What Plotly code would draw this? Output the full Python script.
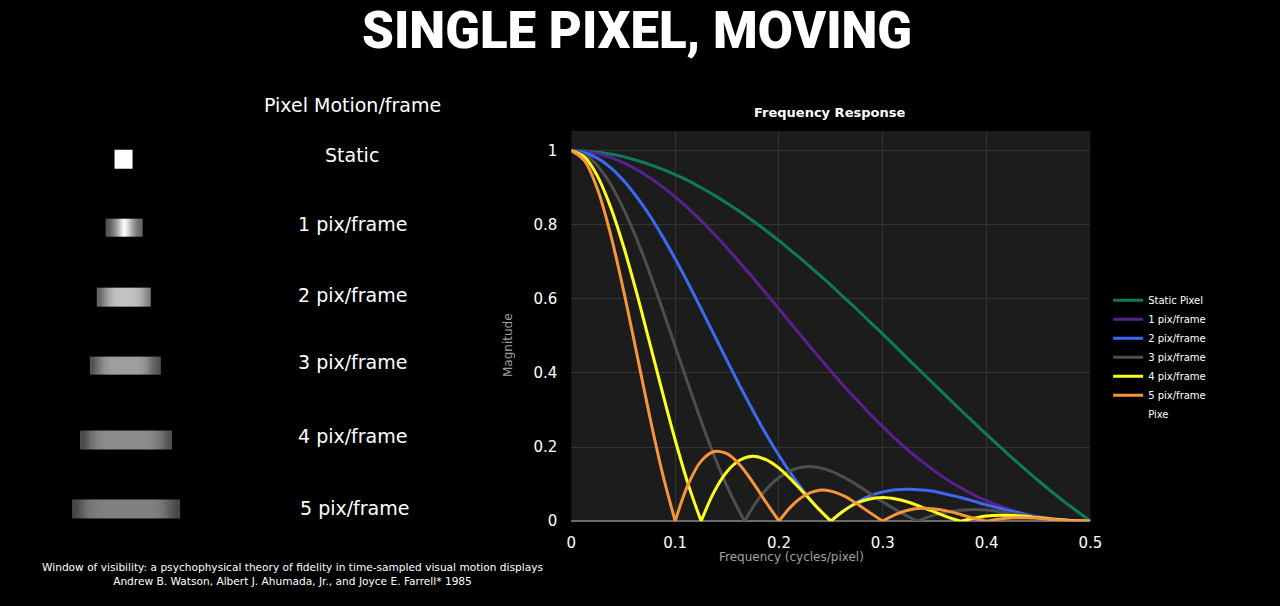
import plotly.graph_objects as go

# ------------------------------------------------------------------
# Frequency response data
# ------------------------------------------------------------------
FREQ = [0, 0.0125, 0.025, 0.0375, 0.05, 0.0625, 0.075, 0.0875, 0.1, 0.1125,
        0.125, 0.1375, 0.15, 0.1625, 0.175, 0.1875, 0.2, 0.2125, 0.225, 0.2375,
        0.25, 0.2625, 0.275, 0.2875, 0.3, 0.3125, 0.325, 0.3375, 0.35, 0.3625,
        0.375, 0.3875, 0.4, 0.4125, 0.425, 0.4375, 0.45, 0.4625, 0.475, 0.4875, 0.5]

STATIC = [1, 0.999, 0.996, 0.991, 0.984, 0.974, 0.963, 0.950, 0.935, 0.919,
          0.900, 0.880, 0.858, 0.835, 0.810, 0.784, 0.757, 0.728, 0.699, 0.668,
          0.637, 0.604, 0.572, 0.538, 0.505, 0.471, 0.436, 0.402, 0.368, 0.334,
          0.300, 0.267, 0.234, 0.202, 0.170, 0.139, 0.109, 0.080, 0.052, 0.026, 0]

PIX1 = [1, 0.998, 0.992, 0.982, 0.968, 0.950, 0.928, 0.903, 0.875, 0.844,
        0.811, 0.775, 0.737, 0.697, 0.657, 0.615, 0.573, 0.530, 0.488, 0.446,
        0.405, 0.365, 0.327, 0.290, 0.255, 0.221, 0.190, 0.162, 0.135, 0.111,
        0.090, 0.071, 0.055, 0.041, 0.029, 0.019, 0.012, 0.006, 0.003, 0.001, 0]

PIX2 = [1, 0.995, 0.980, 0.955, 0.920, 0.877, 0.827, 0.770, 0.708, 0.642,
        0.573, 0.503, 0.433, 0.364, 0.298, 0.235, 0.177, 0.124, 0.076, 0.035,
        0, 0.029, 0.051, 0.068, 0.079, 0.085, 0.086, 0.084, 0.080, 0.072,
        0.064, 0.054, 0.044, 0.035, 0.026, 0.018, 0.011, 0.006, 0.003, 0.001, 0]

FREQ_3 = [0, 0.0167, 0.0333, 0.05, 0.0667, 0.0833, 0.1, 0.1167, 0.1333, 0.15,
          0.1667, 0.1833, 0.2, 0.2167, 0.2333, 0.25, 0.2667, 0.2833, 0.3, 0.3167,
          0.3333, 0.35, 0.3667, 0.3833, 0.4, 0.4167, 0.4333, 0.45, 0.4667, 0.4833, 0.5]

PIX3 = [1, 0.982, 0.929, 0.844, 0.735, 0.608, 0.472, 0.336, 0.207, 0.094,
        0, 0.071, 0.118, 0.142, 0.147, 0.135, 0.112, 0.083, 0.052, 0.024,
        0, 0.017, 0.027, 0.031, 0.030, 0.024, 0.017, 0.010, 0.005, 0.001, 0]

PIX4 = [1, 0.983, 0.932, 0.850, 0.744, 0.620, 0.486, 0.350, 0.219, 0.100,
        0, 0.079, 0.134, 0.165, 0.175, 0.166, 0.143, 0.110, 0.073, 0.035,
        0, 0.028, 0.049, 0.060, 0.064, 0.060, 0.051, 0.038, 0.025, 0.011,
        0, 0.008, 0.014, 0.016, 0.015, 0.013, 0.009, 0.006, 0.003, 0.001, 0]

PIX5 = [1, 0.973, 0.897, 0.777, 0.626, 0.459, 0.289, 0.132, 0, 0.099,
        0.162, 0.188, 0.182, 0.151, 0.104, 0.051, 0, 0.042, 0.070, 0.083,
        0.081, 0.068, 0.047, 0.023, 0, 0.018, 0.030, 0.035, 0.033, 0.027,
        0.018, 0.008, 0, 0.006, 0.009, 0.009, 0.008, 0.005, 0.002, 0.001, 0]

SERIES_NAMES = ["Static Pixel", "1 pix/frame", "2 pix/frame",
                "3 pix/frame", "4 pix/frame", "5 pix/frame"]

# ------------------------------------------------------------------
# Blurred pixel brightness profiles (left column, 0 = black, 1 = white)
# ------------------------------------------------------------------
BLUR_STATIC = [1.0, 1.0, 1.0, 1.0]
BLUR_1 = [0.33, 0.45, 0.6, 0.8, 1.0, 0.85, 0.65, 0.5, 0.4]
BLUR_2 = [0.4, 0.55, 0.68, 0.74, 0.76, 0.76, 0.76, 0.75, 0.72, 0.62, 0.5]
BLUR_3 = [0.32, 0.45, 0.56, 0.61, 0.62, 0.62, 0.62, 0.62, 0.62, 0.6, 0.52, 0.4, 0.32]
BLUR_4 = [0.3, 0.42, 0.5, 0.54, 0.55, 0.55, 0.55, 0.55, 0.55, 0.55, 0.54, 0.5, 0.42, 0.32]
BLUR_5 = [0.28, 0.38, 0.46, 0.49, 0.5, 0.5, 0.5, 0.5, 0.5, 0.5, 0.5, 0.5, 0.49, 0.45, 0.36, 0.28]

ROW_LABELS = ["Static", "1 pix/frame", "2 pix/frame", "3 pix/frame", "4 pix/frame", "5 pix/frame"]

# ------------------------------------------------------------------
# Style / layout constants
# ------------------------------------------------------------------
COLORS = ["#0f7a5a", "#5a2090", "#3a6af2", "#4e4e4e", "#ffff1e", "#f7953a"]
W, H = 1280, 606
FONT = "DejaVu Sans"

# box left, right, top, bottom (page pixels) for each blur strip
BLUR_BOXES = [(115, 133, 152, 171), (106, 143, 222, 240), (97, 152, 292, 311),
              (90, 162, 362, 380), (80, 173, 437, 456), (72, 181, 507, 526)]
STRIP_NUDGE = -4   # heatmap strips came out a few px right of the text column
LABEL_POS = [(352, 157), (352, 227), (352, 299), (352, 367), (352, 443), (354, 516)]


def px(x):
    return x / W


def py(y):
    return 1 - y / H


fig = go.Figure()

# each curve is drawn lobe by lobe (split at its zeros) so the
# spline keeps the sharp notches of the reference
x_sets = [FREQ, FREQ, FREQ, FREQ_3, FREQ, FREQ]
y_sets = [STATIC, PIX1, PIX2, PIX3, PIX4, PIX5]
for name, xs, ys, col in zip(SERIES_NAMES, x_sets, y_sets, COLORS):
    cuts = [0] + [i for i in range(1, len(ys) - 1) if ys[i] == 0] + [len(ys) - 1]
    for n, (a, b) in enumerate(zip(cuts[:-1], cuts[1:])):
        fig.add_trace(go.Scatter(
            x=xs[a:b + 1], y=ys[a:b + 1], name=name, legendgroup=name,
            showlegend=(n == 0), mode="lines",
            line=dict(color=col, width=3, shape="spline", smoothing=1.0)))

# the stray "Pixe" legend entry
fig.add_trace(go.Scatter(x=[None], y=[None], name="Pixe", mode="lines",
                         line=dict(color="rgba(0,0,0,0)", width=3)))

# blurred pixel strips drawn as one-row heatmaps on a page-pixel axis
profiles = [BLUR_STATIC, BLUR_1, BLUR_2, BLUR_3, BLUR_4, BLUR_5]
for prof, (l, r, t, b) in zip(profiles, BLUR_BOXES):
    dx = (r - l) / len(prof)
    fig.add_trace(go.Heatmap(
        z=[prof], x0=l + STRIP_NUDGE + dx / 2, dx=dx, y0=(t + b) / 2, dy=(b - t),
        zmin=0, zmax=1, zsmooth="best", showscale=False,
        colorscale=[[0, "black"], [1, "white"]], hoverinfo="skip",
        xaxis="x2", yaxis="y2",
    ))

# ------------------------------------------------------------------
# Text
# ------------------------------------------------------------------
ann = []
ann.append(dict(x=0.5, y=py(31), text="SINGLE PIXEL, MOVING",
                font=dict(family="Roboto", size=51, color="white", weight=900)))
ann.append(dict(x=px(352), y=py(107), text="Pixel Motion/frame",
                font=dict(family=FONT, size=19, color="white")))
for lab, (lx, ly) in zip(ROW_LABELS, LABEL_POS):
    ann.append(dict(x=px(lx), y=py(ly), text=lab,
                    font=dict(family=FONT, size=19, color="white")))
ann.append(dict(x=px(291), y=py(583),
                text="Window of visibility: a psychophysical theory of fidelity in time-sampled visual motion displays"
                     "<br>Andrew B. Watson, Albert J. Ahumada, Jr., and Joyce E. Farrell* 1985",
                font=dict(family=FONT, size=10.6, color="white")))
ann.append(dict(x=px(836), y=py(114), text="<b>Frequency Response</b>",
                font=dict(family=FONT, size=13, color="white")))
ann.append(dict(x=px(797), y=py(565), text="Frequency (cycles/pixel)",
                font=dict(family=FONT, size=12, color="#a0a0a0")))
ann.append(dict(x=px(510), y=py(350), text="Magnitude", textangle=-90,
                font=dict(family=FONT, size=12, color="#a0a0a0")))
for a in ann:
    a.update(xref="paper", yref="paper", showarrow=False,
             xanchor="center", yanchor="middle")

fig.update_layout(
    width=W, height=H,
    margin=dict(l=0, r=0, t=0, b=0),
    paper_bgcolor="black",
    plot_bgcolor="black",
    font=dict(family=FONT, color="white"),
    annotations=ann,
    # dark panel behind the frequency response only
    shapes=[dict(type="rect", xref="x domain", yref="y domain",
                 x0=0, x1=1, y0=0, y1=1, layer="below",
                 fillcolor="#1c1c1c", line=dict(width=0))],
    showlegend=True,
    legend=dict(x=px(1118), y=py(290), xanchor="left", yanchor="top",
                bgcolor="rgba(0,0,0,0)", font=dict(family=FONT, size=10, color="white"),
                tracegroupgap=0, itemwidth=30),
    xaxis=dict(domain=[px(574), px(1100)], range=[0, 0.5], dtick=0.1,
               showgrid=True, gridcolor="#333333", zeroline=False,
               ticks="outside", ticklen=8, tickcolor="rgba(0,0,0,0)",
               tickfont=dict(family=FONT, size=15, color="white"),
               showline=False, fixedrange=True),
    yaxis=dict(domain=[py(529), py(133)], range=[0, 1.053],
               tickvals=[0, 0.2, 0.4, 0.6, 0.8, 1],
               ticktext=["0", "0.2", "0.4", "0.6", "0.8", "1"],
               showgrid=True, gridcolor="#333333",
               zeroline=True, zerolinecolor="#6a6a6a", zerolinewidth=2,
               ticks="outside", ticklen=10, tickcolor="rgba(0,0,0,0)",
               tickfont=dict(family=FONT, size=15, color="white"),
               showline=False, fixedrange=True),
    xaxis2=dict(domain=[0, 0.4], range=[0, 0.4 * W], visible=False,
                anchor="y2", fixedrange=True),
    yaxis2=dict(domain=[0, 1], range=[H, 0], visible=False,
                anchor="x2", fixedrange=True),
)

fig.write_html("out.html", config={"displayModeBar": False},
               post_script="document.body.style.margin='0';"
                           "document.body.style.background='black';")
